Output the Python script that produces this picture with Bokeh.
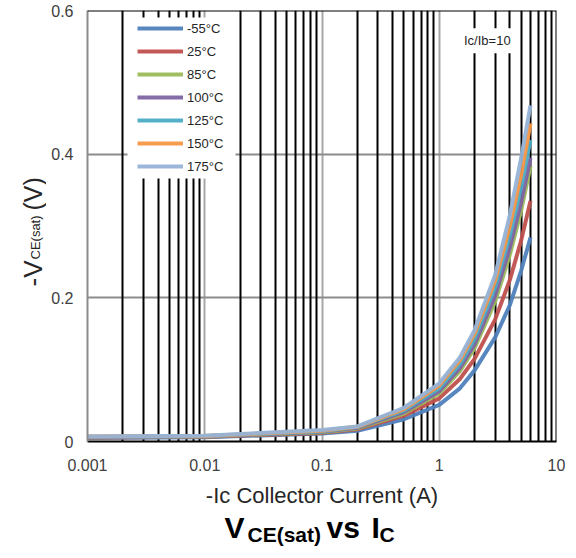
import math
from bokeh.plotting import figure
from bokeh.models import (FixedTicker, CustomJSTickFormatter, Grid, Span, Label,
                          Legend, LegendItem, Range1d, BoxAnnotation)
from bokeh.layouts import row, column
from bokeh.embed import file_html
from bokeh.resources import INLINE

# ---- data ----
ic = [0.001, 0.01, 0.1, 0.2, 0.5, 1, 1.5, 2, 3, 4, 5, 6]
temps = ["-55°C", "25°C", "85°C", "100°C", "125°C", "150°C", "175°C"]
v_m55 = [0.005, 0.006, 0.011, 0.015, 0.031, 0.051, 0.074, 0.099, 0.145, 0.190, 0.238, 0.284]
v_25 = [0.0055, 0.0065, 0.012, 0.017, 0.036, 0.060, 0.087, 0.115, 0.170, 0.225, 0.280, 0.335]
v_85 = [0.006, 0.007, 0.013, 0.018, 0.039, 0.067, 0.098, 0.130, 0.195, 0.260, 0.322, 0.383]
v_100 = [0.006, 0.0072, 0.0135, 0.019, 0.041, 0.070, 0.102, 0.135, 0.203, 0.270, 0.333, 0.395]
v_125 = [0.0065, 0.0075, 0.014, 0.020, 0.043, 0.074, 0.108, 0.143, 0.215, 0.287, 0.355, 0.420]
v_150 = [0.0068, 0.0078, 0.015, 0.0205, 0.045, 0.078, 0.113, 0.150, 0.224, 0.300, 0.372, 0.443]
v_175 = [0.007, 0.008, 0.016, 0.021, 0.047, 0.081, 0.117, 0.155, 0.232, 0.315, 0.395, 0.468]
series = [v_m55, v_25, v_85, v_100, v_125, v_150, v_175]
colors = ["#4F81BD", "#C0504D", "#9BBB59", "#8064A2", "#4BACC6", "#F79646", "#95B3D7"]

x_ticks = [0.001, 0.01, 0.1, 1, 10]
y_ticks = [0, 0.2, 0.4, 0.6]
minor_x = [k * 10.0 ** d for d in range(-3, 1) for k in range(2, 10)]

FONT = "Liberation Sans"
TXT = "#404040"

p = figure(width=522, height=512, x_axis_type="log", output_backend="svg",
           toolbar_location=None, x_range=Range1d(0.001, 10), y_range=Range1d(0, 0.6),
           min_border_left=41, min_border_right=12, min_border_top=10, min_border_bottom=71)
p.outline_line_color = None
p.background_fill_color = "white"

# grids
p.xgrid.ticker = FixedTicker(ticks=x_ticks)
p.ygrid.ticker = FixedTicker(ticks=y_ticks)
p.xgrid.grid_line_color = "#A6A6A6"
p.ygrid.grid_line_color = "#8C8C8C"
p.xgrid.grid_line_width = 2
p.ygrid.grid_line_width = 2
minor_grid = Grid(dimension=0, ticker=FixedTicker(ticks=minor_x),
                  grid_line_color="black", grid_line_width=2)
p.add_layout(minor_grid)

# borders
p.add_layout(Span(location=0.6, dimension="width", line_color="black", line_width=2))
p.add_layout(Span(location=10, dimension="height", line_color="black", line_width=2))

# axes
fmt = CustomJSTickFormatter(code="return tick.toString();")
xa = p.xaxis[0]
xa.ticker = FixedTicker(ticks=x_ticks)
xa.formatter = fmt
xa.axis_line_color = "black"
xa.axis_line_width = 2
xa.major_tick_line_color = None
xa.minor_tick_line_color = None
xa.major_tick_out = 0
xa.major_tick_in = 0
xa.major_label_standoff = 17
xa.major_label_text_font = FONT
xa.major_label_text_font_size = "16px"
xa.major_label_text_color = TXT
xa.axis_label = "-Ic Collector Current (A)"
xa.axis_label_text_font = FONT
xa.axis_label_text_font_size = "22px"
xa.axis_label_text_font_style = "normal"
xa.axis_label_text_color = "#262626"
xa.axis_label_standoff = 9

ya = p.yaxis[0]
ya.ticker = FixedTicker(ticks=y_ticks)
ya.formatter = fmt
ya.axis_line_color = "#8C8C8C"
ya.axis_line_width = 2
ya.major_tick_line_color = None
ya.minor_tick_line_color = None
ya.major_tick_out = 0
ya.major_tick_in = 0
ya.major_label_standoff = 14
ya.major_label_text_font = FONT
ya.major_label_text_font_size = "16px"
ya.major_label_text_color = TXT

# curves
renderers = []
for vals, col in zip(series, colors):
    r = p.line(ic, vals, line_color=col, line_width=4, line_alpha=0.95)
    renderers.append(r)

# white box behind the legend (covers the grid lines)
p.add_layout(BoxAnnotation(left=40, right=148, top=424, bottom=263,
                           left_units="screen", right_units="screen",
                           top_units="screen", bottom_units="screen",
                           fill_color="white", fill_alpha=1.0, line_color=None))

legend = Legend(items=[LegendItem(label=t, renderers=[r]) for t, r in zip(temps, renderers)],
                location=(50, 266), orientation="vertical")
legend.label_text_font = FONT
legend.label_text_font_size = "13px"
legend.label_text_color = "#262626"
legend.glyph_width = 46
legend.glyph_height = 18
legend.label_height = 18
legend.spacing = 5
legend.padding = 0
legend.margin = 0
legend.label_standoff = 4
legend.border_line_color = None
legend.background_fill_alpha = 0.0
p.add_layout(legend)

# Ic/Ib annotation
p.add_layout(Label(x=2.57, y=0.558, text="Ic/Ib=10", text_font=FONT, text_font_size="13px",
                   text_color="#262626", text_align="center", text_baseline="middle",
                   background_fill_color="white", background_fill_alpha=1.0, padding=5))


def blank(w, h):
    f = figure(width=w, height=h, output_backend="svg", toolbar_location=None,
               x_range=Range1d(0, 1), y_range=Range1d(0, 1),
               min_border=0, min_border_left=0, min_border_right=0,
               min_border_top=0, min_border_bottom=0)
    f.axis.visible = False
    f.grid.visible = False
    f.outline_line_color = None
    return f


def lab(f, x, y, text, size, style="normal", angle=0.0, color="#262626"):
    f.add_layout(Label(x=x, y=y, x_units="screen", y_units="screen", text=text,
                       text_font=FONT, text_font_size=size, text_font_style=style,
                       text_color=color, angle=angle, text_align="left",
                       text_baseline="alphabetic"))


# y-axis label with subscript (rotated)
yl = blank(46, 512)
A = math.pi / 2
lab(yl, 32, 226, "-V", "26px", angle=A)
lab(yl, 35, 253, "CE(sat)", "13px", angle=A)
lab(yl, 32, 302, "(V)", "25px", angle=A)

# chart title with subscripts (frame of this figure is aligned with the plot frame)
tf = blank(522, 44)
lab(tf, 137, 29, "V", "30px", "bold", color="black")
lab(tf, 160, 22, "CE(sat)", "21px", "bold", color="black")
lab(tf, 239, 29, "vs", "30px", "bold", color="black")
lab(tf, 284, 29, "I", "30px", "bold", color="black")
lab(tf, 292, 22, "C", "21px", "bold", color="black")

layout = row(yl, column(p, tf, spacing=0), spacing=0)
open("out.html", "w").write(file_html(layout, INLINE))
